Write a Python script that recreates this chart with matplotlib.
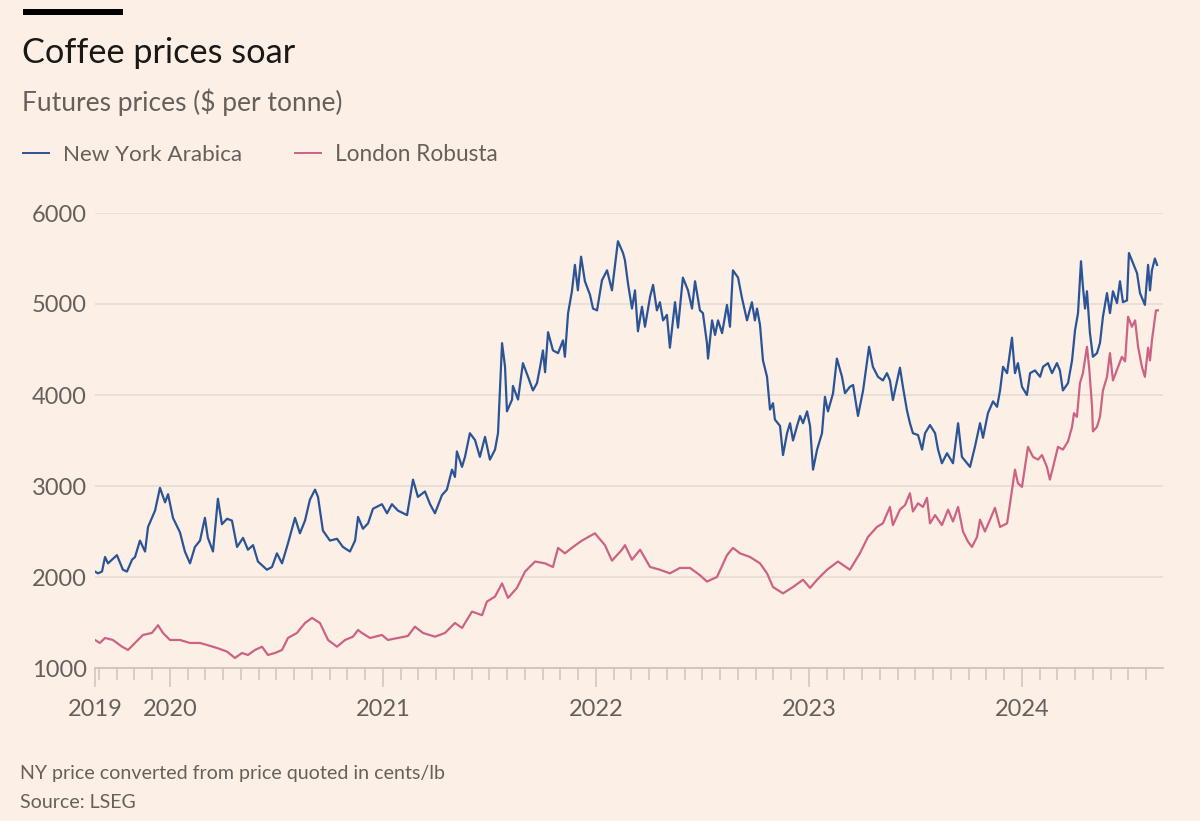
import matplotlib
matplotlib.use("Agg")
import matplotlib.pyplot as plt
from matplotlib.lines import Line2D
from matplotlib.patches import Rectangle

plt.rcParams['font.family'] = ['Lato', 'DejaVu Sans']

# ---- data (x in decimal years, values in $ per tonne) ----
arabica_t = [2019.648, 2019.662, 2019.681, 2019.695, 2019.709, 2019.751, 2019.779, 2019.798, 2019.822, 2019.836,
             2019.859, 2019.883, 2019.897, 2019.930, 2019.953, 2019.977, 2019.991, 2020.014, 2020.047, 2020.070,
             2020.094, 2020.117, 2020.141, 2020.164, 2020.178, 2020.202, 2020.225, 2020.244, 2020.268, 2020.291,
             2020.315, 2020.343, 2020.366, 2020.390, 2020.413, 2020.455, 2020.479, 2020.502, 2020.526, 2020.554,
             2020.587, 2020.610, 2020.634, 2020.657, 2020.681, 2020.695, 2020.718, 2020.751, 2020.784, 2020.812,
             2020.845, 2020.869, 2020.883, 2020.906, 2020.930, 2020.953, 2020.995, 2021.019, 2021.042, 2021.070,
             2021.113, 2021.141, 2021.164, 2021.197, 2021.221, 2021.244, 2021.277, 2021.300, 2021.324, 2021.338,
             2021.347, 2021.371, 2021.385, 2021.408, 2021.432, 2021.455, 2021.479, 2021.502, 2021.526, 2021.540,
             2021.559, 2021.573, 2021.582, 2021.606, 2021.610, 2021.634, 2021.657, 2021.681, 2021.704, 2021.723,
             2021.737, 2021.751, 2021.761, 2021.775, 2021.798, 2021.822, 2021.845, 2021.854, 2021.869, 2021.887,
             2021.901, 2021.915, 2021.930, 2021.948, 2021.972, 2021.986, 2022.005, 2022.028, 2022.052, 2022.075,
             2022.103, 2022.127, 2022.136, 2022.150, 2022.169, 2022.183, 2022.197, 2022.216, 2022.230, 2022.254,
             2022.268, 2022.286, 2022.300, 2022.315, 2022.333, 2022.347, 2022.371, 2022.385, 2022.408, 2022.432,
             2022.451, 2022.465, 2022.488, 2022.502, 2022.521, 2022.526, 2022.545, 2022.559, 2022.573, 2022.592,
             2022.615, 2022.629, 2022.643, 2022.667, 2022.685, 2022.709, 2022.732, 2022.746, 2022.756, 2022.770,
             2022.784, 2022.803, 2022.817, 2022.831, 2022.840, 2022.864, 2022.878, 2022.897, 2022.911, 2022.925,
             2022.944, 2022.958, 2022.972, 2022.991, 2023.005, 2023.019, 2023.038, 2023.061, 2023.075, 2023.089,
             2023.113, 2023.131, 2023.155, 2023.169, 2023.192, 2023.207, 2023.230, 2023.254, 2023.282, 2023.300,
             2023.324, 2023.347, 2023.366, 2023.380, 2023.394, 2023.427, 2023.441, 2023.460, 2023.474, 2023.488,
             2023.512, 2023.531, 2023.545, 2023.568, 2023.592, 2023.606, 2023.624, 2023.648, 2023.676, 2023.700,
             2023.718, 2023.742, 2023.756, 2023.779, 2023.803, 2023.817, 2023.840, 2023.864, 2023.883, 2023.897,
             2023.911, 2023.930, 2023.953, 2023.967, 2023.981, 2024.000, 2024.023, 2024.038, 2024.061, 2024.085,
             2024.099, 2024.122, 2024.141, 2024.164, 2024.178, 2024.192, 2024.216, 2024.235, 2024.249, 2024.263,
             2024.277, 2024.286, 2024.296, 2024.305, 2024.319, 2024.333, 2024.352, 2024.366, 2024.380, 2024.399,
             2024.413, 2024.427, 2024.446, 2024.460, 2024.474, 2024.493, 2024.502, 2024.521, 2024.540, 2024.554,
             2024.577, 2024.592, 2024.601, 2024.610, 2024.624, 2024.634]
arabica_v = [2060, 2040, 2060, 2220, 2150, 2240, 2080, 2060, 2190, 2220,
             2400, 2280, 2550, 2730, 2980, 2820, 2910, 2650, 2490, 2280,
             2150, 2330, 2400, 2650, 2430, 2280, 2860, 2580, 2640, 2620,
             2330, 2430, 2300, 2350, 2170, 2080, 2110, 2260, 2150, 2370,
             2650, 2480, 2620, 2850, 2960, 2880, 2510, 2400, 2420, 2330,
             2280, 2400, 2660, 2530, 2590, 2750, 2800, 2700, 2800, 2730,
             2680, 3070, 2880, 2940, 2800, 2700, 2900, 2960, 3180, 3100,
             3380, 3210, 3320, 3580, 3505, 3320, 3540, 3290, 3400, 3580,
             4570, 4310, 3820, 3950, 4100, 3950, 4350, 4200, 4050, 4130,
             4300, 4490, 4250, 4690, 4490, 4460, 4600, 4420, 4900, 5140,
             5430, 5150, 5520, 5250, 5100, 4950, 4930, 5260, 5370, 5150,
             5690, 5560, 5480, 5230, 4950, 5150, 4700, 4970, 4750, 5080,
             5210, 4930, 5020, 4820, 4880, 4520, 5020, 4740, 5290, 5150,
             4950, 5250, 4930, 4900, 4570, 4400, 4820, 4660, 4820, 4680,
             4990, 4750, 5370, 5290, 5070, 4820, 5020, 4820, 4950, 4770,
             4380, 4200, 3840, 3910, 3730, 3660, 3340, 3580, 3690, 3500,
             3660, 3770, 3690, 3820, 3660, 3180, 3400, 3580, 3980, 3820,
             4020, 4400, 4200, 4020, 4090, 4110, 3770, 4050, 4530, 4310,
             4200, 4160, 4240, 4160, 3945, 4300, 4090, 3830, 3690, 3580,
             3560, 3400, 3580, 3670, 3580, 3400, 3250, 3360, 3250, 3690,
             3320, 3250, 3210, 3430, 3690, 3530, 3800, 3930, 3870, 4050,
             4310, 4240, 4630, 4240, 4350, 4090, 4000, 4240, 4270, 4200,
             4310, 4350, 4240, 4350, 4270, 4050, 4130, 4380, 4710, 4900,
             5470, 5190, 4950, 5140, 4680, 4420, 4460, 4570, 4860, 5120,
             4900, 5140, 5010, 5250, 5020, 5040, 5560, 5450, 5340, 5120,
             4990, 5430, 5150, 5370, 5500, 5430]

robusta_t = [2019.648, 2019.671, 2019.695, 2019.732, 2019.775, 2019.803, 2019.836, 2019.873, 2019.915, 2019.944,
             2019.967, 2020.000, 2020.047, 2020.094, 2020.141, 2020.174, 2020.221, 2020.268, 2020.305, 2020.338,
             2020.366, 2020.399, 2020.432, 2020.460, 2020.493, 2020.526, 2020.554, 2020.596, 2020.634, 2020.667,
             2020.704, 2020.742, 2020.784, 2020.822, 2020.859, 2020.883, 2020.901, 2020.939, 2020.995, 2021.023,
             2021.070, 2021.117, 2021.150, 2021.188, 2021.244, 2021.291, 2021.338, 2021.371, 2021.418, 2021.465,
             2021.488, 2021.526, 2021.559, 2021.587, 2021.629, 2021.667, 2021.714, 2021.761, 2021.798, 2021.822,
             2021.854, 2021.892, 2021.934, 2021.995, 2022.042, 2022.075, 2022.122, 2022.136, 2022.169, 2022.207,
             2022.254, 2022.300, 2022.347, 2022.394, 2022.441, 2022.488, 2022.521, 2022.568, 2022.615, 2022.643,
             2022.676, 2022.723, 2022.770, 2022.803, 2022.831, 2022.878, 2022.925, 2022.972, 2023.005, 2023.038,
             2023.085, 2023.136, 2023.192, 2023.239, 2023.277, 2023.319, 2023.347, 2023.380, 2023.394, 2023.427,
             2023.451, 2023.474, 2023.488, 2023.512, 2023.535, 2023.554, 2023.568, 2023.592, 2023.624, 2023.653,
             2023.676, 2023.700, 2023.723, 2023.746, 2023.765, 2023.789, 2023.803, 2023.826, 2023.850, 2023.873,
             2023.897, 2023.930, 2023.944, 2023.967, 2023.981, 2024.000, 2024.014, 2024.028, 2024.052, 2024.075,
             2024.094, 2024.117, 2024.131, 2024.146, 2024.169, 2024.192, 2024.216, 2024.235, 2024.244, 2024.258,
             2024.272, 2024.286, 2024.305, 2024.315, 2024.329, 2024.333, 2024.352, 2024.366, 2024.380, 2024.399,
             2024.413, 2024.427, 2024.451, 2024.469, 2024.484, 2024.498, 2024.516, 2024.531, 2024.545, 2024.563,
             2024.577, 2024.592, 2024.601, 2024.610, 2024.629, 2024.638]
robusta_v = [1308, 1275, 1330, 1308, 1234, 1198, 1275, 1363, 1385, 1470,
             1385, 1308, 1308, 1275, 1275, 1253, 1220, 1180, 1110, 1165,
             1143, 1198, 1234, 1143, 1165, 1198, 1330, 1385, 1495, 1550,
             1495, 1308, 1234, 1308, 1344, 1418, 1385, 1330, 1363, 1308,
             1330, 1352, 1454, 1385, 1344, 1385, 1495, 1440, 1620, 1580,
             1730, 1785, 1930, 1770, 1880, 2060, 2170, 2150, 2110, 2320,
             2260, 2330, 2400, 2480, 2350, 2180, 2300, 2350, 2190, 2300,
             2110, 2080, 2040, 2100, 2100, 2020, 1950, 2000, 2240, 2320,
             2260, 2220, 2150, 2040, 1890, 1820, 1890, 1970, 1880, 1970,
             2080, 2170, 2080, 2260, 2440, 2550, 2590, 2770, 2570, 2740,
             2790, 2920, 2720, 2810, 2770, 2870, 2590, 2680, 2570, 2740,
             2610, 2770, 2500, 2390, 2330, 2440, 2630, 2500, 2630, 2760,
             2550, 2590, 2810, 3180, 3030, 2990, 3210, 3430, 3320, 3290,
             3340, 3210, 3070, 3210, 3430, 3400, 3490, 3650, 3800, 3760,
             4130, 4240, 4530, 4310, 3870, 3600, 3650, 3760, 4050, 4200,
             4460, 4160, 4310, 4420, 4370, 4860, 4750, 4820, 4530, 4310,
             4200, 4520, 4380, 4600, 4930, 4930]

series_names = ["New York Arabica", "London Robusta"]
year_ticks = [2019.648, 2020, 2021, 2022, 2023, 2024]
year_labels = ["2019", "2020", "2021", "2022", "2023", "2024"]
y_ticks = [1000, 2000, 3000, 4000, 5000, 6000]

# ---- style ----
BG = "#FCF0E6"
BLUE = "#2B5496"
PINK = "#CC6384"
GREY = "#66605C"
GRID = "#E9DED4"
AXIS = "#CFC4BA"

W, H = 1200, 821
fig = plt.figure(figsize=(W / 100, H / 100), dpi=100, facecolor=BG)

def fx(px):
    return px / W

def fy(py):
    return 1 - py / H

ax = fig.add_axes([fx(95), fy(668), fx(1163) - fx(95), fy(213) - fy(668)])
ax.set_facecolor(BG)

ax.plot(arabica_t, arabica_v, color=BLUE, lw=1.6, zorder=3, solid_joinstyle='round')
ax.plot(robusta_t, robusta_v, color=PINK, lw=1.6, zorder=3, solid_joinstyle='round')

ax.set_xlim(2019.648, 2024.662)
ax.set_ylim(1000, 6000)

for s in ["top", "right", "left"]:
    ax.spines[s].set_visible(False)
ax.spines["bottom"].set_color(AXIS)
ax.spines["bottom"].set_linewidth(1.3)

ax.set_yticks(y_ticks)
ax.set_yticklabels([str(v) for v in y_ticks])
ax.yaxis.grid(True, color=GRID, lw=1.3, zorder=0)
ax.tick_params(axis="y", length=0, pad=6, labelsize=17, labelcolor=GREY)

minor = []
for yr in range(2019, 2025):
    for m in range(12):
        v = yr + m / 12
        if 2019.66 < v < 2024.662 and m != 0:
            minor.append(v)
ax.set_xticks(year_ticks)
ax.set_xticklabels(year_labels)
ax.set_xticks(minor, minor=True)
ax.tick_params(axis="x", which="major", length=13.5, width=1.1, color=AXIS,
               pad=9, labelsize=17, labelcolor=GREY)
ax.tick_params(axis="x", which="minor", length=8.5, width=1.1, color=AXIS)

# ---- header ----
fig.add_artist(Rectangle((fx(23), fy(15.5)), fx(123) - fx(23), fy(9) - fy(15.5),
                         transform=fig.transFigure, color="black", lw=0))
fig.text(fx(22), fy(63), "Coffee prices soar", fontsize=24.7, color="#1A1817", va="baseline", ha="left")
fig.text(fx(22), fy(111), "Futures prices ($ per tonne)", fontsize=19, color=GREY, va="baseline", ha="left")

fig.add_artist(Line2D([fx(23), fx(49)], [fy(153), fy(153)], transform=fig.transFigure, color=BLUE, lw=1.4))
fig.text(fx(63), fy(161), series_names[0], fontsize=16.2, color=GREY, va="baseline", ha="left")
fig.add_artist(Line2D([fx(295), fx(321)], [fy(153), fy(153)], transform=fig.transFigure, color=PINK, lw=1.4))
fig.text(fx(335), fy(161), series_names[1], fontsize=16.3, color=GREY, va="baseline", ha="left")

# ---- footer ----
fig.text(fx(20), fy(779), "NY price converted from price quoted in cents/lb", fontsize=14.1, color=GREY,
         va="baseline", ha="left")
fig.text(fx(20), fy(808), "Source: LSEG", fontsize=14.1, color=GREY, va="baseline", ha="left")

fig.savefig("out.png", dpi=100, facecolor=BG)
